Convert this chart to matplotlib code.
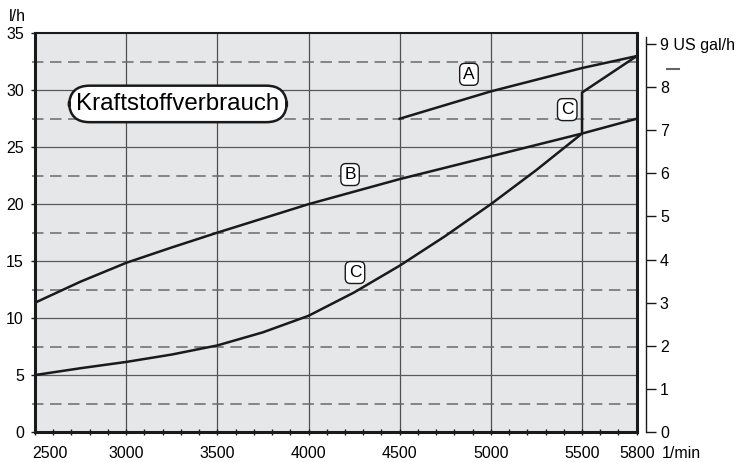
import matplotlib
matplotlib.use("Agg")
import matplotlib.pyplot as plt
from matplotlib.transforms import blended_transform_factory, ScaledTranslation
from matplotlib.lines import Line2D

plt.rcParams['font.family'] = ['Liberation Sans', 'DejaVu Sans']

# ---- data ----
rpm_A = [4500, 5000, 5500, 5800]
fuel_A = [27.5, 29.9, 31.95, 33.0]

rpm_B = [2500, 2750, 3000, 3250, 3500, 3750, 4000, 4250, 4500, 4750, 5000, 5250, 5500, 5800]
fuel_B = [11.35, 13.2, 14.85, 16.2, 17.5, 18.75, 20.0, 21.1, 22.2, 23.2, 24.2, 25.2, 26.2, 27.5]

rpm_C = [2500, 2750, 3000, 3250, 3500, 3750, 4000, 4250, 4500, 4750, 5000, 5250, 5500, 5500, 5800]
fuel_C = [5.0, 5.6, 6.15, 6.8, 7.6, 8.75, 10.2, 12.25, 14.6, 17.2, 20.0, 23.0, 26.2, 29.8, 33.0]

x_ticks = [2500, 3000, 3500, 4000, 4500, 5000, 5500, 5800]
x_ticklabels = ['2500', '3000', '3500', '4000', '4500', '5000', '5500', '5800']
y_ticks = [0, 5, 10, 15, 20, 25, 30, 35]
gal_ticks = [0, 1, 2, 3, 4, 5, 6, 7, 8, 9]
gal_ticklabels = ['0', '1', '2', '3', '4', '5', '6', '7', '8', '9 US gal/h']
LITERS_PER_GAL = 3.785

labels = [('A', 4880, 31.4), ('B', 4228, 22.6), ('C', 4255, 14.0), ('C', 5419, 28.3)]
title_text = 'Kraftstoffverbrauch'

FS = 11.5
INK = '#1a1a1a'

# ---- figure ----
fig = plt.figure(figsize=(7.39, 4.62), dpi=100)
ax = fig.add_axes([35 / 739, 1 - 432 / 462, (636.7 - 35) / 739, (432 - 33.3) / 462])
ax.set_facecolor('#e6e7e8')
ax.set_xlim(2500, 5800)
ax.set_ylim(0, 35)

# grid
for xv in [3000, 3500, 4000, 4500, 5000, 5500]:
    ax.axvline(xv, color='#505050', lw=0.9, zorder=1)
for yv in [5, 10, 15, 20, 25, 30]:
    ax.axhline(yv, color='#5a5a5a', lw=0.9, zorder=1)
tr = blended_transform_factory(ax.transAxes, ax.transData)
for yv in [2.5, 7.5, 12.5, 17.5, 22.5, 27.5, 32.5]:
    ax.add_line(Line2D([-0.005, 1.005], [yv, yv], transform=tr, color='#6a6a6a',
                       lw=1.1, dashes=(7.5, 4.3), clip_on=False, zorder=1))

# curves
for xs, ys in [(rpm_A, fuel_A), (rpm_B, fuel_B), (rpm_C, fuel_C)]:
    ax.plot(xs, ys, color=INK, lw=1.8, zorder=3, solid_joinstyle='round')

for txt, xv, yv in labels:
    ax.text(xv, yv, txt, ha='center', va='center', fontsize=12.5, zorder=4,
            bbox=dict(boxstyle='round,pad=0.2,rounding_size=0.3', fc='white',
                      ec=INK, lw=1.0))

ax.text(3284, 28.8, title_text, ha='center', va='center', fontsize=17.4, zorder=4,
        bbox=dict(boxstyle='round,pad=0.3,rounding_size=0.85', fc='white',
                  ec=INK, lw=1.8))

# spines
for s in ['left', 'bottom', 'right']:
    ax.spines[s].set_linewidth(2.2)
ax.spines['top'].set_linewidth(1.5)
for s in ax.spines.values():
    s.set_color(INK)
    s.set_zorder(5)

# ticks
ax.set_xticks(x_ticks)
ax.set_xticklabels(x_ticklabels, fontsize=FS)
ax.set_xticks(list(range(2500, 5801, 100)), minor=True)
ax.tick_params(axis='x', which='both', direction='inout', length=3.8, width=1.0,
               color=INK, pad=8)
first = ax.get_xticklabels()[0]
first.set_horizontalalignment('left')
first.set_transform(first.get_transform() + ScaledTranslation(-3 / 100, 0, fig.dpi_scale_trans))

ax.set_yticks(y_ticks)
ax.set_yticklabels([str(v) for v in y_ticks], fontsize=FS)
ax.tick_params(axis='y', which='major', direction='out', length=3, width=1.0,
               color=INK, pad=5)
ax.tick_params(axis='y', right=False)

ax.text(-0.03, 1.042, 'l/h', transform=ax.transAxes, ha='center', va='center', fontsize=FS)
ax.text(1.042, -0.053, '1/min', transform=ax.transAxes, ha='left', va='center', fontsize=FS)

# secondary axis (US gal/h)
ax2 = ax.twinx()
ax2.set_ylim(0, 35 / LITERS_PER_GAL)
for s in ['left', 'top', 'bottom']:
    ax2.spines[s].set_visible(False)
ax2.spines['right'].set_position(('outward', 6.7))
ax2.spines['right'].set_linewidth(1.0)
ax2.spines['right'].set_color(INK)
ax2.spines['right'].set_bounds(0, 9.15)
ax2.set_yticks(gal_ticks)
ax2.set_yticklabels(gal_ticklabels, fontsize=FS)
ax2.set_yticks(gal_ticks, minor=True)
ax2.tick_params(axis='y', which='major', direction='out', length=7, width=1.0, color=INK, pad=3)
ax2.tick_params(axis='y', which='minor', direction='in', length=2.2, width=1.0, color=INK)

trg = blended_transform_factory(ax.transAxes, ax2.transData)
ax2.add_line(Line2D([1.050, 1.070], [8.43, 8.43], transform=trg, color='#666666',
                    lw=1.5, clip_on=False))

fig.savefig('out.png', dpi=100)
